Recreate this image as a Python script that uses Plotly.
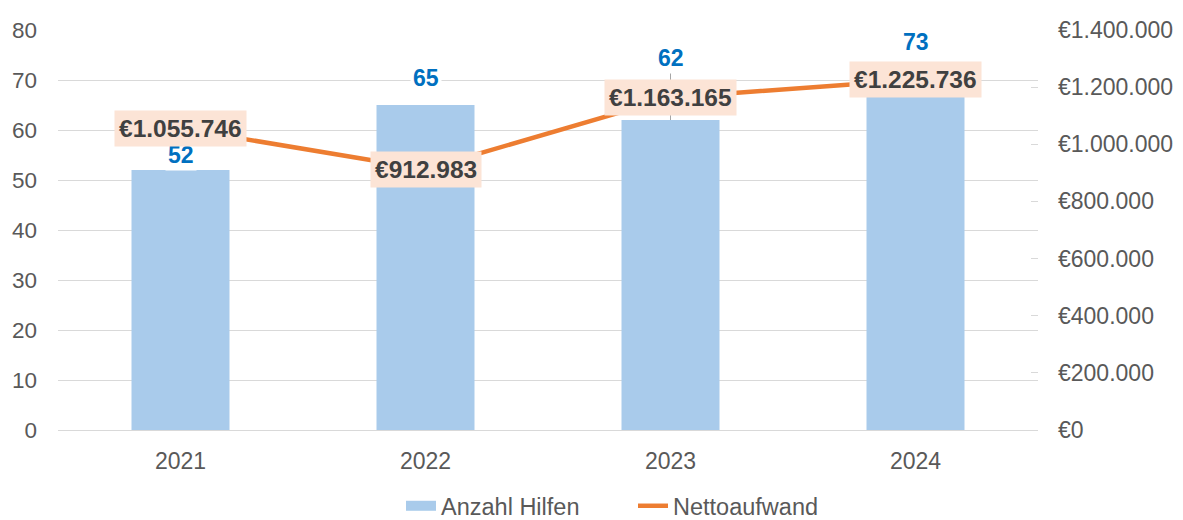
import plotly.graph_objects as go

years = ["2021", "2022", "2023", "2024"]
anzahl_hilfen = [52, 65, 62, 73]
nettoaufwand = [1055746, 912983, 1163165, 1225736]
netto_labels = ["€1.055.746", "€912.983", "€1.163.165", "€1.225.736"]

# pixel offsets of the count labels above the bar tops (styling only)
count_label_offset_px = [15, 27, 62, 23]
count_label_leader = [False, False, True, False]

FONT = "Liberation Sans, Arial, sans-serif"
GRAY_TXT = "#595959"
GRID = "#D9D9D9"
BAR_COLOR = "#A9CBEB"
LINE_COLOR = "#ED7D31"

fig = go.Figure()
fig.add_trace(go.Bar(
    x=years, y=anzahl_hilfen, name="Anzahl Hilfen",
    marker=dict(color=BAR_COLOR, line=dict(width=0)), width=0.4,
    yaxis="y", showlegend=False,
))
# legend swatch for the bars (wide rectangle like the reference)
fig.add_trace(go.Scatter(
    x=[None], y=[None], name="Anzahl Hilfen", mode="lines",
    line=dict(color=BAR_COLOR, width=12), yaxis="y",
))
fig.add_trace(go.Scatter(
    x=years, y=nettoaufwand, name="Nettoaufwand", mode="lines",
    line=dict(color=LINE_COLOR, width=4.5), yaxis="y2",
))

annotations = []
for i, (v, off, lead) in enumerate(zip(anzahl_hilfen, count_label_offset_px, count_label_leader)):
    annotations.append(dict(
        x=i, y=v, xref="x", yref="y", text=f"<b>{v}</b>",
        showarrow=True, arrowhead=0, ax=0, ay=-off, standoff=0,
        arrowcolor="#A6A6A6" if lead else "rgba(0,0,0,0)", arrowwidth=1,
        font=dict(family=FONT, size=23, color="#0070C0"),
        bgcolor="white", borderpad=2,
    ))
for i, (v, t) in enumerate(zip(nettoaufwand, netto_labels)):
    annotations.append(dict(
        x=i, y=v, xref="x", yref="y2", text=f"<b>{t}</b>",
        showarrow=False, xanchor="center", yanchor="middle",
        font=dict(family=FONT, size=24.5, color="#404040"),
        bgcolor="#FCE4D6", borderpad=4,
    ))

fig.update_layout(
    width=1183, height=520,
    margin=dict(l=50, r=153, t=22, b=98, autoexpand=False),
    paper_bgcolor="white", plot_bgcolor="white",
    separators=",.",
    font=dict(family=FONT, size=23, color=GRAY_TXT),
    showlegend=True,
    legend=dict(orientation="h", x=0.35, xanchor="left", y=-0.245, yanchor="bottom",
                font=dict(family=FONT, size=23.5, color=GRAY_TXT),
                entrywidth=187, entrywidthmode="pixels",
                traceorder="normal", bgcolor="rgba(0,0,0,0)"),
    xaxis=dict(type="category", range=[-0.5, 3.5], autorange=False, showgrid=False,
               showline=True, linecolor=GRID, linewidth=1, ticklabelstandoff=10,
               ticks="", automargin=False, tickfont=dict(size=23, color=GRAY_TXT)),
    yaxis=dict(range=[0, 80], dtick=10, showgrid=True, gridcolor=GRID, gridwidth=1,
               zeroline=False, showline=False, ticks="", ticklabelstandoff=20,
               automargin=False, tickfont=dict(size=22.5, color=GRAY_TXT)),
    yaxis2=dict(range=[0, 1400000], dtick=200000, overlaying="y", side="right",
                showgrid=False, zeroline=False, showline=False,
                ticks="inside", ticklen=7, tickcolor=GRID, automargin=False,
                tickprefix="€", tickformat=",d", ticklabelstandoff=19,
                tickfont=dict(size=23, color=GRAY_TXT)),
    annotations=annotations,
)

fig.write_html("out.html")
